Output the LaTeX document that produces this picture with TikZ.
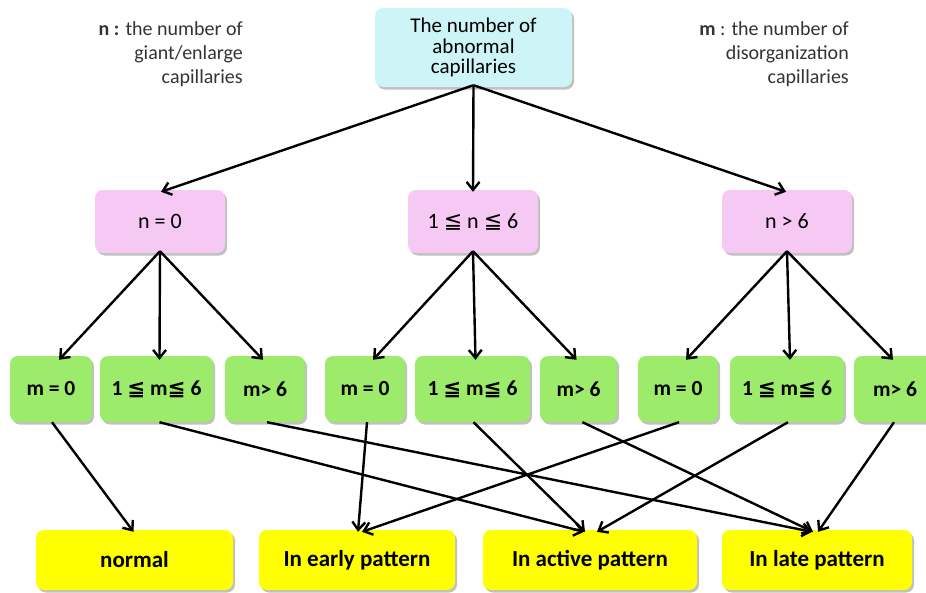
\documentclass[tikz,border=0pt]{standalone}
\usepackage{fontspec}
\setmainfont{Carlito}
\newfontfamily\symfont{DejaVu Sans}
\newcommand\myleqq{{\symfont ≦}}
\usetikzlibrary{arrows.meta,shadows}

\definecolor{topcyan}{HTML}{CDF4F6}
\definecolor{npink}{HTML}{F6C8F4}
\definecolor{mgreen}{HTML}{9CEB6A}
\definecolor{ryellow}{HTML}{FFFF00}
\definecolor{notegray}{HTML}{333333}

\begin{document}
\begin{tikzpicture}[x=1pt,y=-1pt,
  box/.style={rounded corners=8pt, inner sep=0pt, align=center,
    drop shadow={shadow xshift=2pt, shadow yshift=-2.5pt, opacity=0.35, fill=black!70}},
  topbox/.style={box, fill=topcyan, minimum width=197pt, minimum height=79pt,
    font=\fontsize{21}{20.5}\selectfont},
  nbox/.style={box, fill=npink, minimum width=130pt, minimum height=63pt,
    font=\fontsize{22}{24}\selectfont},
  mbox/.style={box, fill=mgreen, minimum height=66pt,
    font=\bfseries\fontsize{21.5}{24}\selectfont},
  rbox/.style={box, fill=ryellow, minimum height=60pt,
    font=\bfseries\fontsize{23}{26}\selectfont},
  note/.style={align=right, text=notegray, inner sep=0pt,
    font=\fontsize{20}{24}\selectfont},
  link/.style={line width=2.4pt, -{Straight Barb[length=8pt, width=13pt, line width=2.4pt]}}
]
\useasboundingbox (0,0) rectangle (926,592);

% root
\node[topbox] (root) at (473.5,47.5) {The number of\\abnormal\\capillaries};

% legends
\node[note, anchor=north east] (nnote) at (243,21)
  {\textbf{n :} the number of\\giant/enlarge\\capillaries};
\node[note, anchor=north east] (mnote) at (849,21)
  {\textbf{m} : the number of\\disorganization\\capillaries};

% n classes
\node[nbox] (n0) at (160,221.5) {n = 0};
\node[nbox] (n16) at (473,221.5) {1 \myleqq\ n \myleqq\ 6};
\node[nbox] (n6) at (787,221.5) {n > 6};

% m classes
\node[mbox, minimum width=82pt]  (a0) at (51,389) {m = 0};
\node[mbox, minimum width=113pt] (a16) at (156.5,389) {1 \myleqq\ m\myleqq\ 6};
\node[mbox, minimum width=80pt]  (a6) at (265,389) {m> 6};
\node[mbox, minimum width=80pt]  (b0) at (365,389) {m = 0};
\node[mbox, minimum width=115pt] (b16) at (472.5,389) {1 \myleqq\ m\myleqq\ 6};
\node[mbox, minimum width=77pt]  (b6) at (578.5,389) {m> 6};
\node[mbox, minimum width=80pt]  (c0) at (678,389) {m = 0};
\node[mbox, minimum width=114pt] (c16) at (787,389) {1 \myleqq\ m\myleqq\ 6};
\node[mbox, minimum width=82pt]  (c6) at (895,389) {m> 6};

% results
\node[rbox, minimum width=197pt] (normal) at (134.5,560) {normal};
\node[rbox, minimum width=196pt] (early) at (357,560) {In early pattern};
\node[rbox, minimum width=214pt] (active) at (590,560) {In active pattern};
\node[rbox, minimum width=190pt] (late) at (817,560) {In late pattern};

% root -> n classes
\coordinate (rootout) at ([yshift=2pt]root.south);
\draw[link] (rootout) -- ([xshift=1pt,yshift=-2pt]n0.north);
\draw[link] (rootout) -- ([yshift=-2pt]n16.north);
\draw[link] (rootout) -- ([xshift=-1pt,yshift=-2pt]n6.north);

% n classes -> m classes
\foreach \p/\l/\c/\r in {n0/a0/a16/a6, n16/b0/b16/b6, n6/c0/c16/c6} {
  \draw[link] ([yshift=2pt]\p.south) -- ([xshift=8pt,yshift=-4pt]\l.north);
  \draw[link] ([yshift=2pt]\p.south) -- ([xshift=3pt,yshift=-4pt]\c.north);
  \draw[link] ([yshift=2pt]\p.south) -- ([xshift=-2pt,yshift=-4pt]\r.north);
}

% m classes -> results
\draw[link] ([xshift=1pt]a0.south)  -- ([xshift=-1pt,yshift=-2pt]normal.north);
\draw[link] ([xshift=3pt]a16.south) -- ([xshift=-6pt,yshift=-2pt]active.north);
\draw[link] ([xshift=2pt]a6.south)  -- ([xshift=-5pt,yshift=-2pt]late.north);
\draw[link] ([xshift=2pt]b0.south)  -- ([xshift=1pt,yshift=-2pt]early.north);
\draw[link] ([xshift=1pt]b16.south) -- ([xshift=-5pt,yshift=-2pt]active.north);
\draw[link] ([xshift=4pt]b6.south)  -- ([xshift=-4pt,yshift=-2pt]late.north);
\draw[link] ([xshift=1pt]c0.south)  -- ([xshift=5pt,yshift=-2pt]early.north);
\draw[link] ([xshift=1pt]c16.south) -- ([xshift=7pt,yshift=-2pt]active.north);
\draw[link] ([xshift=-1pt]c6.south) -- ([xshift=1pt,yshift=-2pt]late.north);
\end{tikzpicture}
\end{document}
